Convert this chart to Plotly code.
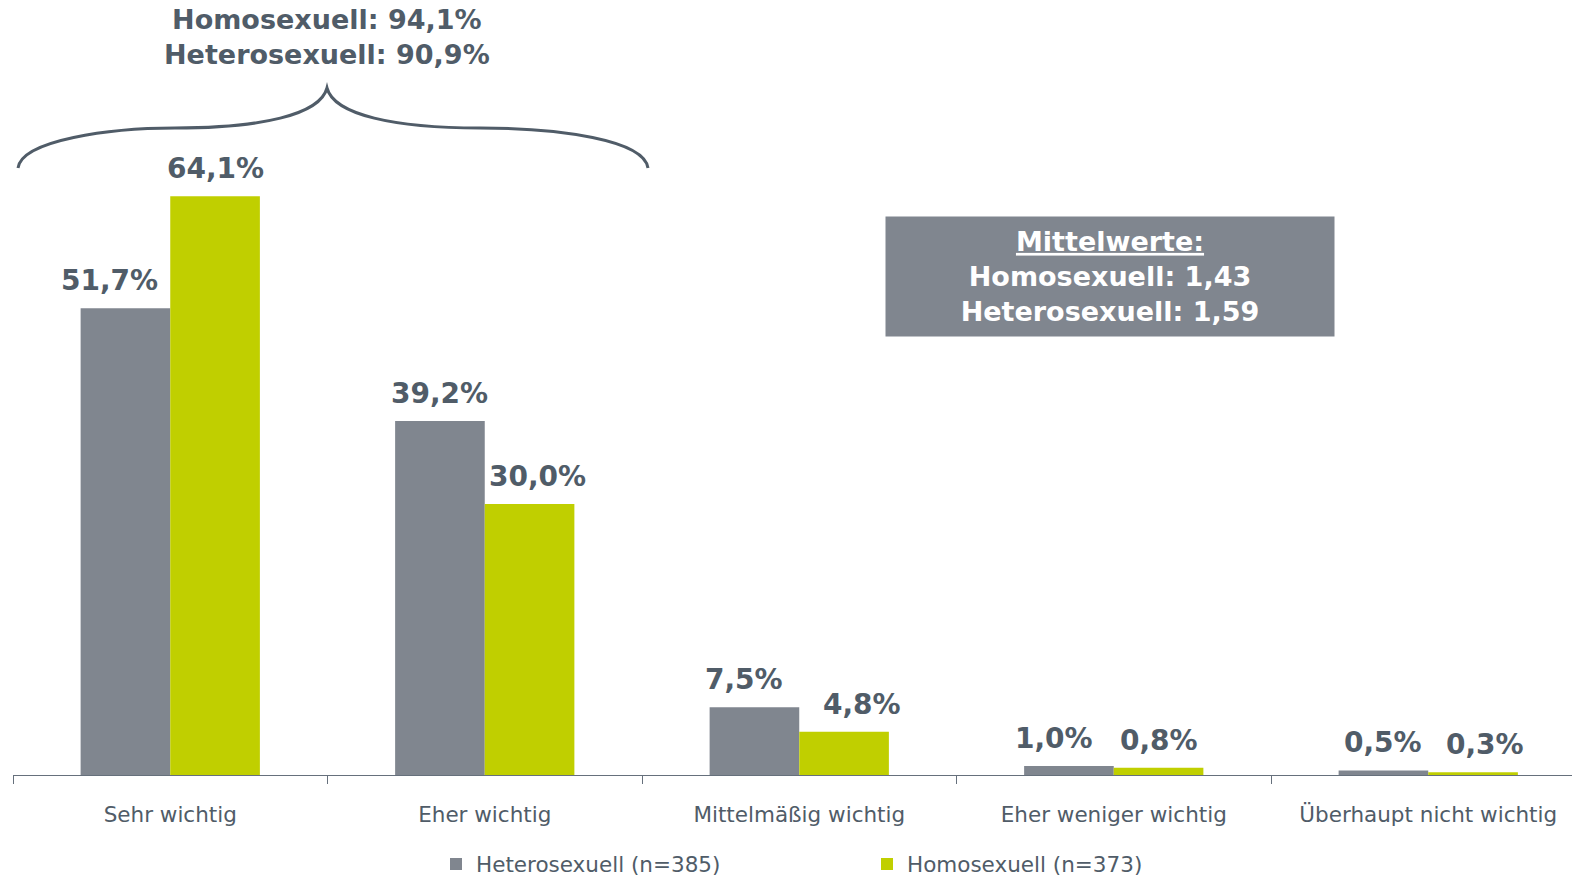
import plotly.graph_objects as go

categories = ["Sehr wichtig", "Eher wichtig", "Mittelmäßig wichtig",
              "Eher weniger wichtig", "Überhaupt nicht wichtig"]
hetero = [51.7, 39.2, 7.5, 1.0, 0.5]
homo = [64.1, 30.0, 4.8, 0.8, 0.3]
series_names = ["Heterosexuell (n=385)", "Homosexuell (n=373)"]
top_sum_text = "Homosexuell: 94,1%<br>Heterosexuell: 90,9%"
mean_text = "<u>Mittelwerte:</u><br>Homosexuell: 1,43<br>Heterosexuell: 1,59"

GRAY = "#80868f"
GREEN = "#c0cf00"
TEXT = "#505c68"
AXIS = "#66707c"
FONT = "DejaVu Sans"

W, H = 1572, 878
L, R, T, B = 13, 0, 40, 103
PW, PH = W - L - R, H - T - B
CAT_PX = 314.5   # width of one category slot in pixels
BARGAP = 0.43

# small horizontal nudges of the value labels (px), like the original layout
nudge_hetero = [-16, 0, -10, -15, 0]
nudge_homo = [0, 8, 18, 0, 12]


def px(x, y):
    # pixel position -> paper coordinates
    return (x - L) / PW, (H - B - y) / PH


fig = go.Figure()
for name, vals, col in [(series_names[0], hetero, GRAY), (series_names[1], homo, GREEN)]:
    fig.add_trace(go.Bar(x=categories, y=vals, name=name, marker=dict(color=col, line=dict(width=0))))

# value labels above bars
bar_px = CAT_PX * (1 - BARGAP) / 2
for shift, vals, nudges in [(-bar_px / 2, hetero, nudge_hetero), (bar_px / 2, homo, nudge_homo)]:
    for c, v, n in zip(categories, vals, nudges):
        fig.add_annotation(
            x=c, y=v, xref="x", yref="y", text=f"{v:.1f}%".replace(".", ","),
            showarrow=False, xshift=shift + n, yanchor="bottom", yshift=9,
            font=dict(family=FONT, size=28, color=TEXT, weight="bold"),
        )

# curly brace over the first two groups
pts = [(18, 168), (22, 140), (110, 128), (175, 128), (260, 128), (320, 115), (327, 88),
       (334, 115), (395, 128), (480, 128), (560, 128), (644, 140), (648, 168)]
pp = [px(*p) for p in pts]
path = f"M {pp[0][0]},{pp[0][1]}"
for i in range(1, len(pp), 3):
    path += " C " + " ".join(f"{a},{b}" for a, b in pp[i:i + 3])
fig.add_shape(type="path", path=path, xref="paper", yref="paper",
              line=dict(color=TEXT, width=3))

sx, sy = px(327, 37)
fig.add_annotation(x=sx, y=sy, xref="paper", yref="paper", text=top_sum_text,
                   showarrow=False, xanchor="center", yanchor="middle",
                   font=dict(family=FONT, size=27, color=TEXT, weight="bold"))

bx, by = px(1110, 276.5)
fig.add_annotation(x=bx, y=by, xref="paper", yref="paper", text=mean_text,
                   showarrow=False, xanchor="center", yanchor="middle",
                   width=446, height=117, bgcolor=GRAY, borderpad=1,
                   font=dict(family=FONT, size=27, color="white", weight="bold"))

fig.update_layout(
    width=W, height=H,
    margin=dict(l=L, r=R, t=T, b=B, autoexpand=False),
    paper_bgcolor="white", plot_bgcolor="white",
    barmode="group", bargap=BARGAP, bargroupgap=0,
    showlegend=True,
    legend=dict(orientation="h", xref="container", yref="container",
                x=436 / W, y=1 - 864 / H, xanchor="left", yanchor="middle",
                entrywidth=386, font=dict(family=FONT, size=21.5, color=TEXT)),
    xaxis=dict(range=[-0.5, -0.5 + PW / CAT_PX],
               showline=True, linecolor=AXIS, linewidth=1,
               ticks="outside", tickson="boundaries", ticklen=8, tickcolor=AXIS,
               ticklabelstandoff=20, tickfont=dict(family=FONT, size=21.5, color=TEXT)),
    yaxis=dict(range=[0, PH / 9.03], visible=False, showgrid=False),
)

fig.write_html("out.html", config={"displayModeBar": False},
               post_script="document.body.style.margin='0';")
